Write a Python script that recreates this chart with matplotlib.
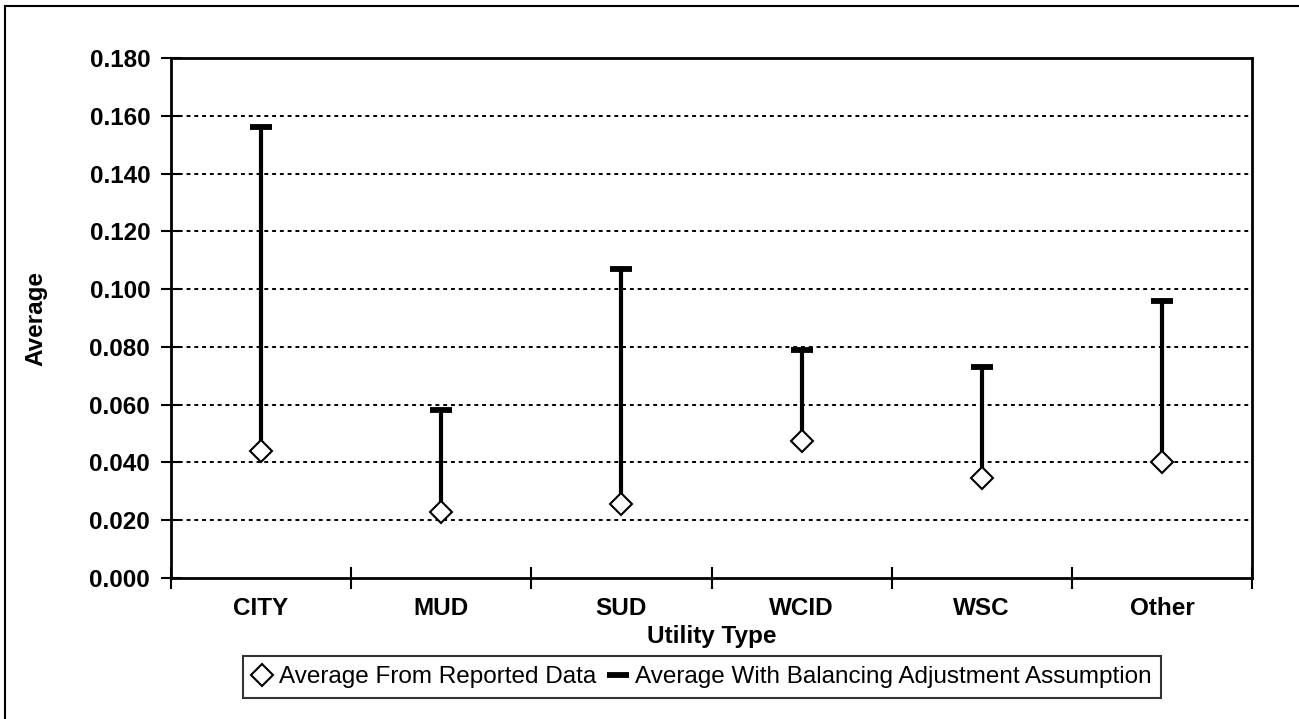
import matplotlib
matplotlib.use("Agg")
import matplotlib.pyplot as plt
from matplotlib.lines import Line2D
import numpy as np

categories = ["CITY", "MUD", "SUD", "WCID", "WSC", "Other"]
reported = [0.044, 0.023, 0.0255, 0.0475, 0.0345, 0.040]
balancing = [0.156, 0.058, 0.107, 0.079, 0.073, 0.096]
yticks = [0.0, 0.02, 0.04, 0.06, 0.08, 0.10, 0.12, 0.14, 0.16, 0.18]

plt.rcParams['font.family'] = ['Liberation Sans', 'DejaVu Sans']

W, H = 1299, 719
fig = plt.figure(figsize=(W / 100, H / 100), dpi=100)
ax = fig.add_axes([171 / W, 1 - 578 / H, (1252 - 171) / W, (578 - 58) / H])

x = np.arange(len(categories))
ax.set_xlim(-0.5, len(categories) - 0.5)
ax.set_ylim(0, 0.18)

for yv in yticks[1:]:
    ax.axhline(yv, color='black', lw=1.4, ls=(0, (2, 2)), zorder=1)

ax.vlines(x, reported, balancing, color='black', lw=3.0, zorder=2)
ax.plot(x, balancing, ls='none', marker='_', ms=16, mew=4.2, color='black',
        zorder=3, label='Average With Balancing Adjustment Assumption')
ax.plot(x, reported, ls='none', marker='D', ms=11, mfc='white', mec='black',
        mew=1.5, zorder=4, label='Average From Reported Data')

ax.set_yticks(yticks)
ax.set_yticklabels([f"{v:.3f}" for v in yticks], fontsize=17.5, fontweight='bold')
ax.set_xticks(np.arange(-0.5, len(categories)))
ax.set_xticklabels([])
ax.set_xticks(x, minor=True)
ax.set_xticklabels(categories, minor=True, fontsize=17.5, fontweight='bold')
ax.tick_params(axis='x', which='minor', length=0, pad=14)
ax.tick_params(axis='x', which='major', direction='inout', length=16, width=1.5)
ax.tick_params(axis='y', direction='inout', length=14, width=1.5, pad=8)
for s in ax.spines.values():
    s.set_linewidth(2)
    s.set_color('black')

ax.set_xlabel('Utility Type', fontsize=17.5, fontweight='bold', labelpad=3)
ax.set_ylabel('Average', fontsize=17.5, fontweight='bold', labelpad=30)

h, l = ax.get_legend_handles_labels()
leg = fig.legend([h[1], h[0]], [l[1], l[0]], loc='center',
                 bbox_to_anchor=(702 / W, 1 - 677 / H), ncol=2, fontsize=17.5,
                 frameon=True, fancybox=False, edgecolor='black',
                 handlelength=0.8, handletextpad=0.3, columnspacing=0.5,
                 borderpad=0.4, borderaxespad=0)
leg.get_frame().set_linewidth(1.5)

fig.add_artist(Line2D([5 / W, 5 / W], [0, 1 - 6 / H], transform=fig.transFigure,
                      color='black', lw=1.5))
fig.add_artist(Line2D([5 / W, 1], [1 - 6 / H, 1 - 6 / H], transform=fig.transFigure,
                      color='black', lw=1.5))

fig.savefig('out.png', dpi=100)
